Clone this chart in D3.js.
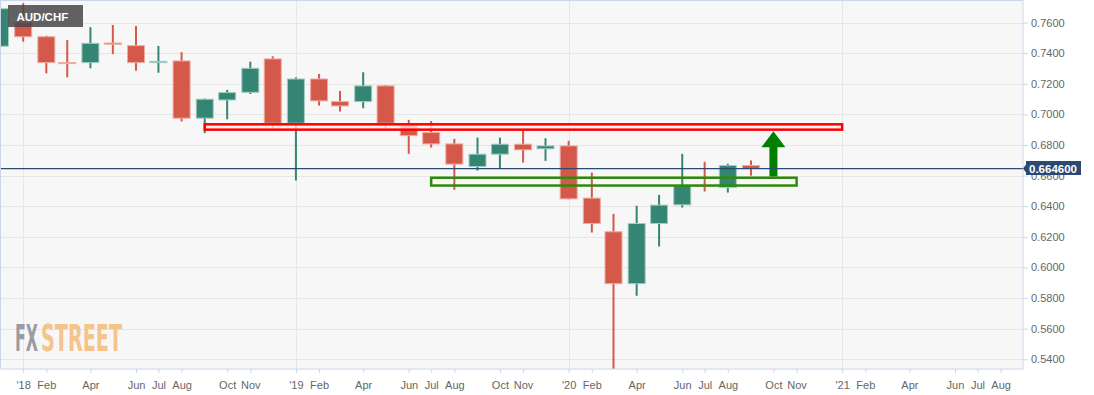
<!DOCTYPE html>
<html>
<head>
<meta charset="utf-8">
<script src="https://cdn.jsdelivr.net/npm/d3@7"></script>
<style>
  body { margin: 0; background: #fff; }
  svg { display: block; font-family: "Liberation Sans", Arial, sans-serif; }
</style>
</head>
<body>
<svg id="chart" width="1094" height="395"></svg>
<script>
// monthly AUD/CHF candles
const months = ["2017-12", "2018-01", "2018-02", "2018-03", "2018-04", "2018-05", "2018-06", "2018-07",
    "2018-08", "2018-09", "2018-10", "2018-11", "2018-12", "2019-01", "2019-02", "2019-03", "2019-04",
    "2019-05", "2019-06", "2019-07", "2019-08", "2019-09", "2019-10", "2019-11", "2019-12", "2020-01",
    "2020-02", "2020-03", "2020-04", "2020-05", "2020-06", "2020-07", "2020-08", "2020-09"];
const opens  = [0.7445, 0.7599, 0.7507, 0.7338, 0.7338, 0.7466, 0.7449, 0.7338, 0.7349, 0.6975, 0.7094, 0.7144,
    0.7362, 0.6942, 0.7231, 0.7083, 0.7083, 0.7186, 0.6931, 0.6881, 0.6807, 0.6659, 0.6740, 0.6805, 0.6775,
    0.6794, 0.6453, 0.6233, 0.5894, 0.6287, 0.6409, 0.6537, 0.6522, 0.6666];
const highs  = [0.7745, 0.7726, 0.7514, 0.7486, 0.7569, 0.7584, 0.7577, 0.7447, 0.7406, 0.7103, 0.7160, 0.7344,
    0.7379, 0.7242, 0.7264, 0.7153, 0.7275, 0.7192, 0.6964, 0.6957, 0.6840, 0.6848, 0.6848, 0.6899, 0.6844,
    0.6827, 0.6620, 0.6350, 0.6403, 0.6474, 0.6742, 0.6690, 0.6677, 0.6699];
const lows   = [0.7400, 0.7475, 0.7268, 0.7242, 0.7301, 0.7393, 0.7286, 0.7272, 0.6953, 0.6877, 0.6968, 0.7133,
    0.6910, 0.6568, 0.7057, 0.7018, 0.7040, 0.6910, 0.6742, 0.6783, 0.6507, 0.6633, 0.6649, 0.6685, 0.6696,
    0.6445, 0.6228, 0.5330, 0.5815, 0.6137, 0.6391, 0.6496, 0.6489, 0.6600];
const closes = [0.7690, 0.7507, 0.7338, 0.7332, 0.7464, 0.7458, 0.7338, 0.7346, 0.6975, 0.7099, 0.7142, 0.7301,
    0.6942, 0.7231, 0.7088, 0.7055, 0.7186, 0.6942, 0.6861, 0.6807, 0.6675, 0.6740, 0.6805, 0.6768, 0.6794,
    0.6448, 0.6287, 0.5894, 0.6287, 0.6407, 0.6535, 0.6533, 0.6666, 0.6646];

const yTicks = [0.54, 0.56, 0.58, 0.60, 0.62, 0.64, 0.66, 0.68, 0.70, 0.72, 0.74, 0.76];
const xTickMonths = ["2018-01", "2018-02", "2018-04", "2018-06", "2018-07", "2018-08", "2018-10", "2018-11",
    "2019-01", "2019-02", "2019-04", "2019-06", "2019-07", "2019-08", "2019-10", "2019-11",
    "2020-01", "2020-02", "2020-04", "2020-06", "2020-07", "2020-08", "2020-10", "2020-11",
    "2021-01", "2021-02", "2021-04", "2021-06", "2021-07", "2021-08"];
const xTickLabels = ["'18", "Feb", "Apr", "Jun", "Jul", "Aug", "Oct", "Nov",
    "'19", "Feb", "Apr", "Jun", "Jul", "Aug", "Oct", "Nov",
    "'20", "Feb", "Apr", "Jun", "Jul", "Aug", "Oct", "Nov",
    "'21", "Feb", "Apr", "Jun", "Jul", "Aug"];
const yearStarts = ["2018-01", "2019-01", "2020-01", "2021-01"];

const lastPrice = 0.6646;
const resistanceZone = [0.6900, 0.6935];
const resistanceSpan = ["2018-09", "2021-01"];
const supportZone = [0.6535, 0.6586];
const supportSpan = ["2019-07", "2020-11"];
const arrowMonth = "2020-10";

const parse = d3.timeParse("%Y-%m");
const svg = d3.select("#chart");
const plotW = 1023, plotH = 369;

const x = d3.scaleTime()
    .domain([parse("2017-12"), new Date(2021, 7, 31)])
    .range([0, plotW]);
const y = d3.scaleLinear()
    .domain([0.54, 0.76])
    .range([359.3, 22.5]);

// plot background
svg.append("rect")
    .attr("x", 0.5).attr("y", 0.5)
    .attr("width", plotW - 0.5).attr("height", plotH - 0.5)
    .attr("fill", "#f7f7f7");

svg.append("defs").append("clipPath").attr("id", "plotClip")
    .append("rect").attr("x", 0).attr("y", 0).attr("width", plotW).attr("height", plotH);

// grid
svg.append("g").selectAll("line")
    .data(yTicks).enter().append("line")
    .attr("x1", 0).attr("x2", plotW)
    .attr("y1", d => Math.round(y(d)) + 0.5).attr("y2", d => Math.round(y(d)) + 0.5)
    .attr("stroke", "#e6e6e6");
svg.append("g").selectAll("line")
    .data(yearStarts).enter().append("line")
    .attr("x1", d => Math.round(x(parse(d))) + 0.5).attr("x2", d => Math.round(x(parse(d))) + 0.5)
    .attr("y1", 0).attr("y2", plotH)
    .attr("stroke", "#e6e6e6");

// logo
const logoFont = "'Liberation Sans Narrow', 'DejaVu Sans Condensed', sans-serif";
svg.append("text")
    .attr("x", 15).attr("y", 351)
    .attr("font-family", logoFont).attr("font-weight", "bold").attr("font-size", 38)
    .attr("textLength", 23).attr("lengthAdjust", "spacingAndGlyphs")
    .attr("fill", "#9a9ca4")
    .text("FX");
svg.append("text")
    .attr("x", 41).attr("y", 351)
    .attr("font-family", logoFont).attr("font-weight", "bold").attr("font-size", 38)
    .attr("textLength", 81).attr("lengthAdjust", "spacingAndGlyphs")
    .attr("fill", "#f3c48c")
    .text("STREET");

// candles
const candles = months.map((m, i) => ({
    date: parse(m), open: opens[i], high: highs[i], low: lows[i], close: closes[i]
}));
const bodyW = 17;
const gCandles = svg.append("g").attr("clip-path", "url(#plotClip)");
const candle = gCandles.selectAll("g").data(candles).enter().append("g");
candle.append("line")
    .attr("x1", d => x(d.date)).attr("x2", d => x(d.date))
    .attr("y1", d => y(d.high)).attr("y2", d => y(d.low))
    .attr("stroke", d => d.close >= d.open ? "#348573" : "#d5594a")
    .attr("stroke-width", 2);
candle.append("rect")
    .attr("x", d => x(d.date) - bodyW / 2)
    .attr("y", d => y(Math.max(d.open, d.close)))
    .attr("width", bodyW)
    .attr("height", d => Math.max(1, Math.abs(y(d.open) - y(d.close))))
    .attr("fill", d => d.close >= d.open ? "#348573" : "#d5594a")
    .attr("stroke", d => d.close >= d.open ? "#a3cdc1" : "#efaba1")
    .attr("stroke-width", 1);

// resistance zone
svg.append("rect")
    .attr("x", x(parse(resistanceSpan[0])))
    .attr("y", y(resistanceZone[1]))
    .attr("width", x(parse(resistanceSpan[1])) - x(parse(resistanceSpan[0])))
    .attr("height", y(resistanceZone[0]) - y(resistanceZone[1]))
    .attr("fill", "rgba(255,238,238,0.75)")
    .attr("stroke", "#ff0000")
    .attr("stroke-width", 2.5);

// support zone
svg.append("rect")
    .attr("x", x(parse(supportSpan[0])))
    .attr("y", y(supportZone[1]))
    .attr("width", x(parse(supportSpan[1])) - x(parse(supportSpan[0])))
    .attr("height", y(supportZone[0]) - y(supportZone[1]))
    .attr("fill", "none")
    .attr("stroke", "#2f8a0c")
    .attr("stroke-width", 2.5);

// arrow from support up to resistance
const ax = x(parse(arrowMonth));
const tipY = y(resistanceZone[0]) + 1.5;
const baseY = y(supportZone[1]) - 1.3;
const headH = 16;
svg.append("path")
    .attr("d", `M${ax - 4},${baseY} L${ax - 4},${tipY + headH} L${ax - 12},${tipY + headH} L${ax},${tipY}
        L${ax + 12},${tipY + headH} L${ax + 4},${tipY + headH} L${ax + 4},${baseY} Z`)
    .attr("fill", "#008000");

// last price line
svg.append("line")
    .attr("x1", 0).attr("x2", plotW)
    .attr("y1", y(lastPrice)).attr("y2", y(lastPrice))
    .attr("stroke", "#2b4a73")
    .attr("stroke-width", 1.2);

// plot border
svg.append("rect")
    .attr("x", 0.5).attr("y", 0.5)
    .attr("width", plotW - 0.5).attr("height", plotH - 0.5)
    .attr("fill", "none")
    .attr("stroke", "#ccd6eb");

// axes
const yAxis = svg.append("g")
    .attr("transform", `translate(${plotW},0)`)
    .call(d3.axisRight(y).tickValues(yTicks).tickFormat(d3.format(".4f")).tickSize(5).tickPadding(3));
const xAxis = svg.append("g")
    .attr("transform", `translate(0,${plotH})`)
    .call(d3.axisBottom(x).tickValues(xTickMonths.map(parse))
        .tickFormat((d, i) => xTickLabels[i]).tickSize(4).tickPadding(8));
[yAxis, xAxis].forEach(a => {
    a.select(".domain").remove();
    a.selectAll(".tick line").attr("stroke", "#ccd6eb");
    a.selectAll(".tick text")
        .attr("fill", "#666666")
        .attr("font-size", 11)
        .attr("font-family", "'Liberation Sans', Arial, sans-serif");
});

// last price label
const ly = y(lastPrice);
svg.append("path")
    .attr("d", `M${plotW},${ly} L${plotW + 3},${ly - 4} L${plotW + 3},${ly - 7.5} L${plotW + 58},${ly - 7.5}
        L${plotW + 58},${ly + 6.5} L${plotW + 3},${ly + 6.5} L${plotW + 3},${ly + 4} Z`)
    .attr("fill", "#2b4a73");
svg.append("text")
    .attr("x", plotW + 6).attr("y", ly + 4)
    .attr("fill", "#ffffff")
    .attr("font-size", 11.5)
    .attr("font-weight", "bold")
    .text(d3.format(".6f")(lastPrice));

// symbol label
svg.append("rect")
    .attr("x", 8).attr("y", 5).attr("width", 75).attr("height", 22)
    .attr("fill", "rgba(70,70,70,0.85)");
svg.append("text")
    .attr("x", 16.5).attr("y", 20.5)
    .attr("fill", "#ffffff")
    .attr("font-size", 11.5)
    .attr("font-weight", "bold")
    .text("AUD/CHF");
</script>
</body>
</html>
